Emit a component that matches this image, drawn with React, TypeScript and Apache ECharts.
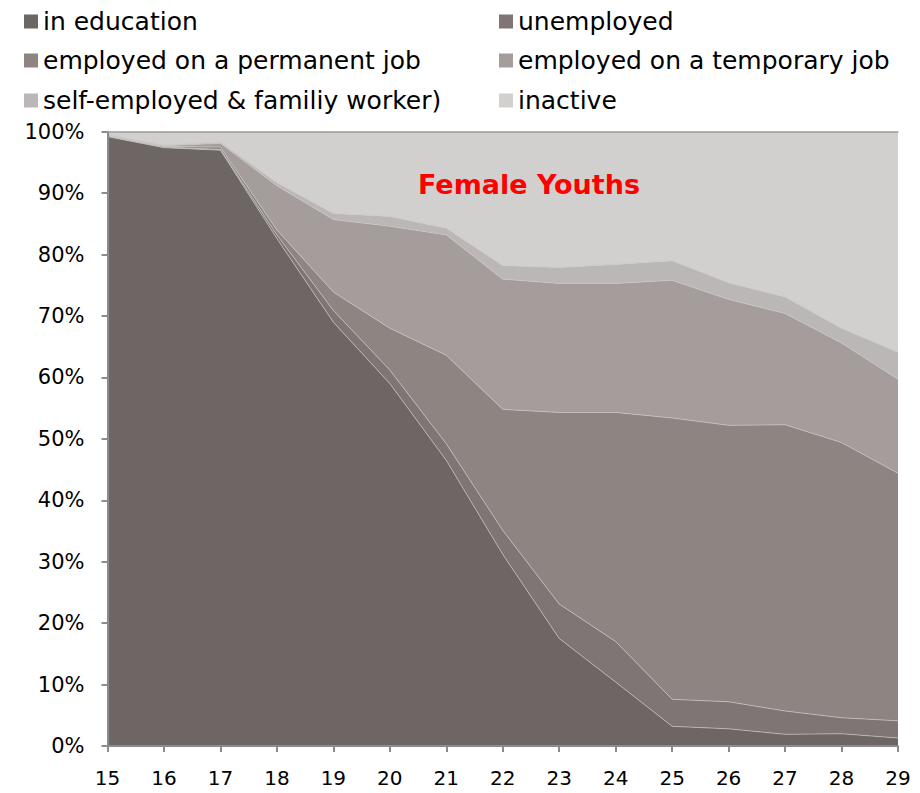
import React, { useEffect, useRef } from "react";
import * as echarts from "echarts";

// Age of the youths (x axis)
const ages = ["15", "16", "17", "18", "19", "20", "21", "22", "23", "24", "25", "26", "27", "28", "29"];

// Share of female youths in each status, percent by age
const inEducation = [99.2, 97.4, 97.0, 82.6, 69.0, 59.0, 46.5, 31.2, 17.5, 10.4, 3.2, 2.8, 1.9, 2.0, 1.3];
const unemployed = [0.05, 0.1, 0.1, 0.6, 1.9, 2.2, 2.7, 3.9, 5.6, 6.6, 4.4, 4.4, 3.8, 2.6, 2.8];
const permanentJob = [0.05, 0.1, 0.4, 0.8, 3.0, 6.8, 14.4, 19.7, 31.2, 37.3, 45.8, 45.0, 46.6, 44.8, 40.3];
const temporaryJob = [0.1, 0.1, 0.6, 7.2, 11.8, 16.6, 19.6, 21.2, 21.0, 21.0, 22.4, 20.5, 18.1, 16.2, 15.3];
const selfEmployed = [0.1, 0.1, 0.2, 0.5, 1.0, 1.6, 1.1, 2.2, 2.6, 3.1, 3.2, 2.7, 2.7, 2.4, 4.4];
const inactive = [0.5, 2.2, 1.7, 8.3, 13.3, 13.8, 15.7, 21.8, 22.1, 21.6, 21.0, 24.6, 26.9, 32.0, 35.9];

const seriesNames = [
  "in education",
  "unemployed",
  "employed on a permanent job",
  "employed on a temporary job",
  "self-employed & familiy worker)",
  "inactive",
];
const seriesValues = [inEducation, unemployed, permanentJob, temporaryJob, selfEmployed, inactive];
const seriesColors = ["#6e6565", "#7e7574", "#8e8583", "#a59c9c", "#bbb7b6", "#d2d0cf"];

const yTicks = [0, 10, 20, 30, 40, 50, 60, 70, 80, 90, 100];

const FONT = "'DejaVu Sans', sans-serif";

// legend slots: two columns, three rows
const legendSlots = [
  { left: 19, top: 4 },
  { left: 494, top: 4 },
  { left: 19, top: 43 },
  { left: 494, top: 43 },
  { left: 19, top: 83 },
  { left: 494, top: 83 },
];

export default function App() {
  const ref = useRef<HTMLDivElement>(null);

  useEffect(() => {
    if (!ref.current) return;
    const chart = echarts.init(ref.current, null, { renderer: "svg" });

    const option = {
      animation: false,
      backgroundColor: "#ffffff",
      legend: seriesNames.map((name, i) => ({
        data: [name],
        left: legendSlots[i].left,
        top: legendSlots[i].top,
        icon: "rect",
        itemWidth: 14,
        itemHeight: 14,
        itemGap: 10,
        selectedMode: false,
        textStyle: { fontFamily: FONT, fontSize: 25, color: "#000" },
      })),
      graphic: [
        {
          type: "text",
          left: 418,
          top: 171,
          z: 100,
          style: {
            text: "Female Youths",
            fill: "#ff0000",
            font: `bold 27px ${FONT}`,
          },
        },
      ],
      grid: { left: 107.5, right: 22, top: 131.7, bottom: 47 },
      xAxis: [
        {
          type: "category",
          data: ages,
          boundaryGap: false,
          axisLine: { lineStyle: { color: "#8c8c8c", width: 2 } },
          axisTick: { show: true, length: 6, alignWithLabel: true, lineStyle: { color: "#8c8c8c", width: 2 } },
          axisLabel: { color: "#000", fontFamily: FONT, fontSize: 20, margin: 22 },
          splitLine: { show: false },
          z: 10,
        },
        {
          type: "category",
          data: ages,
          position: "top",
          boundaryGap: false,
          axisLine: { lineStyle: { color: "#9a9a9a", width: 1.5 } },
          axisTick: { show: false },
          axisLabel: { show: false },
          z: 10,
        },
      ],
      yAxis: {
        type: "value",
        min: 0,
        max: 100,
        interval: 10,
        axisLine: { show: true, lineStyle: { color: "#8c8c8c", width: 2 } },
        axisTick: { show: true, length: 6, lineStyle: { color: "#8c8c8c", width: 2 } },
        axisLabel: {
          color: "#000",
          fontFamily: FONT,
          fontSize: 21,
          margin: 23,
          formatter: (v: number) => (yTicks.includes(v) ? `${v}%` : ""),
        },
        splitLine: { show: false },
        z: 10,
      },
      series: seriesNames.map((name, i) => ({
        name,
        type: "line",
        stack: "total",
        data: seriesValues[i],
        symbol: "none",
        itemStyle: { color: seriesColors[i] },
        lineStyle: { width: i === 5 ? 0 : 0.7, color: "#c9c5c4" },
        areaStyle: { color: seriesColors[i], opacity: 1 },
      })),
    };

    chart.setOption(option);
    return () => chart.dispose();
  }, []);

  return (
    <div
      ref={ref}
      style={{ position: "fixed", left: 0, top: 0, width: 920, height: 793 }}
    />
  );
}
